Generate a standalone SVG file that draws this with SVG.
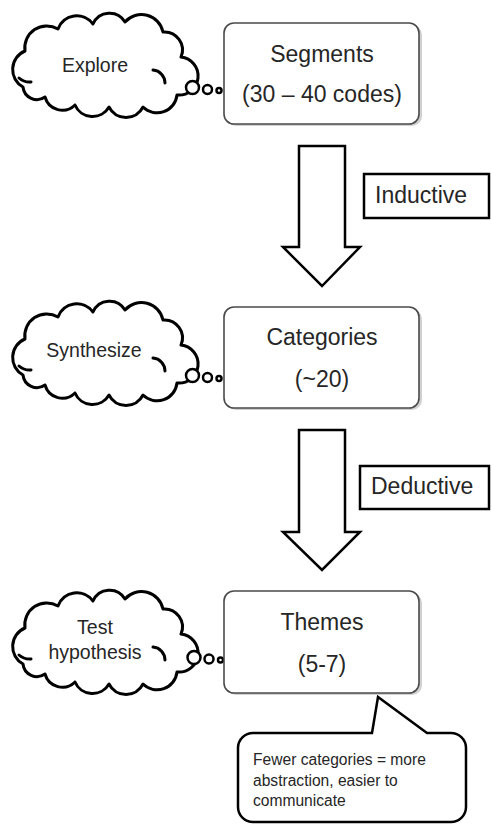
<svg xmlns="http://www.w3.org/2000/svg" width="492" height="825" viewBox="0 0 492 825">
<style>
  .box { fill: #ffffff; stroke: #4a4a4a; stroke-width: 1.6; }
  .shadow { fill: #d0d0d0; }
  .cloud { fill: #ffffff; stroke: #000000; stroke-width: 3; stroke-linejoin: round; }
  .hook { fill: none; stroke: #000000; stroke-width: 3; stroke-linecap: round; }
  .bub { fill: #ffffff; stroke: #000000; stroke-width: 2.5; }
  .arrow { fill: #ffffff; stroke: #000000; stroke-width: 2.5; stroke-linejoin: miter; }
  .lbl { fill: #ffffff; stroke: #000000; stroke-width: 2.5; }
  .t { font-family: "Liberation Sans", Arial, sans-serif; fill: #262626; }
  .big { font-size: 23px; text-anchor: middle; }
  .cl { font-size: 19.5px; text-anchor: middle; }
  .note { font-size: 15.6px; }
</style>
<defs>
  <g id="cloudShape">
    <path class="cloud" d="M 10,72 A 20 20 0 0 1 12,36 A 22 22 0 0 1 45,14 A 20 20 0 0 1 80,9 A 18 18 0 0 1 112,7 A 22 22 0 0 1 150,17 A 18 18 0 0 1 168,42 A 18 18 0 0 1 164,80 A 20 20 0 0 1 130,92 A 19 19 0 0 1 96,92 A 19 19 0 0 1 62,90 A 18 18 0 0 1 32,82 A 14 14 0 0 1 10,72 Z"/>
    <path class="hook" d="M 140,55 A 13 13 0 0 1 152,68"/>
    <path class="hook" d="M 6,63 A 16 16 0 0 0 18,67"/>
  </g>
</defs>

<g id="connectors">
  <polygon id="arrow-inductive" class="arrow" points="299,146 345,146 345,247 360,247 322,286 283,247 299,247"/>
  <polygon id="arrow-deductive" class="arrow" points="299,430 345,430 345,532 360,532 322,570 283,532 299,532"/>
</g>

<g id="explore">
  <use href="#cloudShape" transform="translate(13,15)"/>
  <circle class="bub" cx="192.5" cy="87.5" r="6.5"/>
  <circle class="bub" cx="207.5" cy="89.5" r="4.5"/>
  <circle class="bub" cx="219" cy="90.5" r="2.5"/>
  <text class="t cl" x="95" y="72">Explore</text>
</g>

<g id="segments">
  <rect class="shadow" x="226" y="25" width="196" height="101" rx="10"/>
  <rect class="box" x="224" y="23" width="195" height="101" rx="10"/>
  <text class="t big" x="322" y="62">Segments</text>
  <text class="t big" x="322" y="102">(30 – 40 codes)</text>
</g>

<g id="inductive">
  <rect class="lbl" x="364" y="174" width="125" height="44"/>
  <text class="t" x="375" y="203" style="font-size:23px">Inductive</text>
</g>

<g id="synthesize">
  <use href="#cloudShape" transform="translate(13,303)"/>
  <circle class="bub" cx="192.5" cy="375.5" r="6.5"/>
  <circle class="bub" cx="207.5" cy="377.5" r="4.5"/>
  <circle class="bub" cx="219" cy="378.5" r="2.5"/>
  <text class="t cl" x="94" y="357">Synthesize</text>
</g>

<g id="categories">
  <rect class="shadow" x="226" y="309" width="196" height="101" rx="10"/>
  <rect class="box" x="224" y="307" width="195" height="101" rx="10"/>
  <text class="t big" x="322" y="345">Categories</text>
  <text class="t big" x="322" y="387">(~20)</text>
</g>

<g id="deductive">
  <rect class="lbl" x="360" y="466" width="129" height="43"/>
  <text class="t" x="371" y="494" style="font-size:23px">Deductive</text>
</g>

<g id="test-hypothesis">
  <use href="#cloudShape" transform="translate(13,592)"/>
  <circle class="bub" cx="194" cy="657.5" r="6.5"/>
  <circle class="bub" cx="209" cy="659" r="4.5"/>
  <circle class="bub" cx="220.5" cy="660" r="2.5"/>
  <text class="t cl" x="95" y="634">Test</text>
  <text class="t cl" x="95" y="659">hypothesis</text>
</g>

<g id="themes">
  <rect class="shadow" x="226" y="593" width="196" height="102" rx="10"/>
  <rect class="box" x="224" y="591" width="195" height="102" rx="10"/>
  <text class="t big" x="322" y="630">Themes</text>
  <text class="t big" x="322" y="672">(5-7)</text>
</g>

<g id="note">
  <path class="lbl" d="M 253,733 L 372,733 L 378,697 L 427,733 L 451,733 A 15 15 0 0 1 466,748 L 466,807 A 15 15 0 0 1 451,822 L 253,822 A 15 15 0 0 1 238,807 L 238,748 A 15 15 0 0 1 253,733 Z"/>
  <text class="t note" x="253" y="765">Fewer categories = more</text>
  <text class="t note" x="253" y="786">abstraction, easier to</text>
  <text class="t note" x="253" y="806">communicate</text>
</g>
</svg>
